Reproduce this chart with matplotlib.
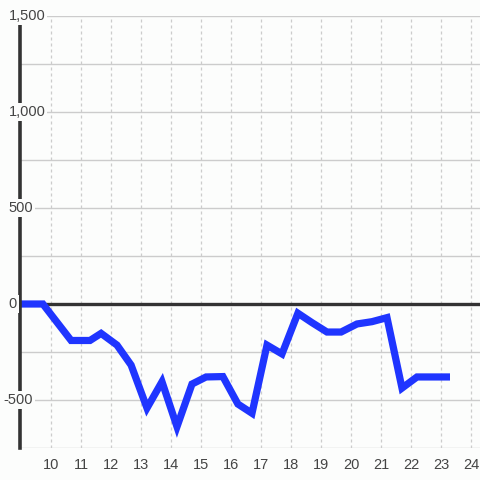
import matplotlib
matplotlib.use("Agg")
import matplotlib.pyplot as plt
import matplotlib.transforms as mtransforms

plt.rcParams['font.family'] = ['Liberation Sans', 'DejaVu Sans']

# hours of the day (decimal) and value at each point
heures = [8.97, 9.73, 10.67, 11.3, 11.67, 12.2, 12.67, 13.2, 13.7, 14.2,
          14.7, 15.17, 15.73, 16.23, 16.7, 17.2, 17.7, 18.23, 18.7, 19.2,
          19.67, 20.2, 20.7, 21.2, 21.7, 22.2, 22.7, 23.3]
valeurs = [0, 0, -190, -190, -153, -214, -318, -542, -405, -639,
           -417, -380, -378, -521, -569, -214, -260, -48, -97, -146,
           -146, -104, -92, -71, -438, -380, -380, -380]

ticks_x = list(range(10, 25))
ticks_y = [1500, 1000, 500, 0, -500]
grille_y = [1500, 1250, 1000, 750, 500, 250, 0, -250, -500, -750]

fond = '#fcfdfc'

fig = plt.figure(figsize=(4.8, 4.8), dpi=100, facecolor=fond)
ax = fig.add_axes([20 / 480, 32 / 480, 460 / 480, 432 / 480])
ax.set_facecolor(fond)

ax.set_xlim(8.967, 24.3)
ax.set_ylim(-750, 1500)

for y in grille_y:
    ax.axhline(y, color='#cccccc', lw=1.0, zorder=1)
for x in ticks_x:
    ax.axvline(x, color='#cccccc', lw=0.9, ls=(0, (2.4, 2.4)), zorder=1)

ax.axhline(0, color='#333333', lw=2.4, zorder=2)
ax.plot(heures, valeurs, color='#1f35ff', lw=5.2, zorder=3,
        solid_joinstyle='miter', solid_capstyle='butt')

for s in ['top', 'right', 'bottom']:
    ax.spines[s].set_visible(False)
ax.spines['left'].set_color('#333333')
ax.spines['left'].set_linewidth(2.6)
ax.spines['left'].set_zorder(4)

ax.set_xticks(ticks_x)
ax.set_xticklabels([str(t) for t in ticks_x])
ax.tick_params(axis='x', length=0, pad=7, labelsize=10.5, labelcolor='#444444')
ax.set_yticks([])

trans = mtransforms.blended_transform_factory(fig.transFigure, ax.transData)
for v in ticks_y:
    x0 = (3.5 if v < 0 else 8.5) / 480
    ax.text(x0, v, f"{v:,}", transform=trans, ha='left', va='center',
            fontsize=10.5, color='#444444', zorder=5,
            bbox=dict(facecolor=fond, edgecolor='none', pad=1.5))

fig.savefig('out.png', dpi=100, facecolor=fond)
